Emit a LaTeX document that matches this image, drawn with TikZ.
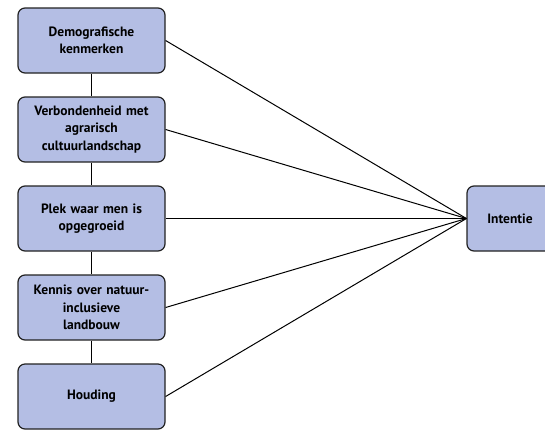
\documentclass[tikz,border=0pt]{standalone}
\usepackage{fontspec}
\setmainfont{PT Sans}
\definecolor{boxfill}{HTML}{B4BEE4}
\definecolor{boxline}{HTML}{222222}
\begin{document}
\begin{tikzpicture}[x=1pt,y=-1pt,
  box/.style={draw=boxline, line width=1.2pt, fill=boxfill, rounded corners=7pt,
    minimum width=147pt, minimum height=65pt, align=center, inner sep=2pt,
    font=\fontsize{13.5}{17.5}\selectfont\bfseries, text width=140pt},
  conn/.style={draw=black, line width=1pt}]
\useasboundingbox (0,0) rectangle (545,429);
\node[box] (a) at (91.5,40.5) {Demografische\\kenmerken};
\node[box] (b) at (91.5,129.5) {Verbondenheid met\\agrarisch\\cultuurlandschap};
\node[box] (c) at (91.5,218.5) {Plek waar men is\\opgegroeid};
\node[box] (d) at (91.5,307.5) {Kennis over natuur-\\inclusieve\\landbouw};
\node[box] (e) at (91.5,396.5) {Houding};
\node[box, minimum width=86pt, text width=80pt] (i) at (510,218.5) {Intentie};
\draw[conn] (a) -- (b);
\draw[conn] (b) -- (c);
\draw[conn] (c) -- (d);
\draw[conn] (d) -- (e);
\coordinate (t) at (i.west);
\foreach \n in {a,b,c,d,e} \draw[conn] (\n.east) -- (t);
\end{tikzpicture}
\end{document}
